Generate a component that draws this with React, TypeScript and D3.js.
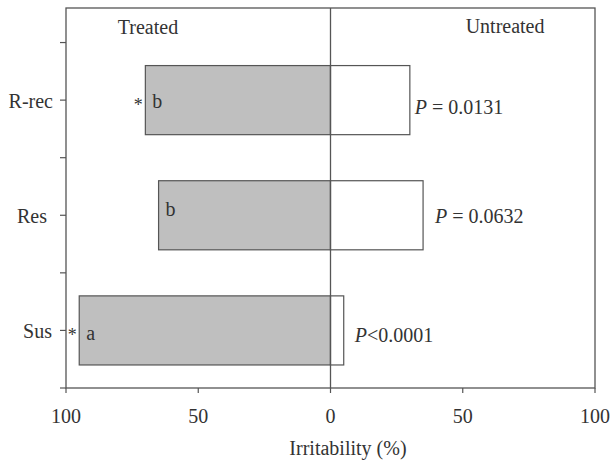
import React from "react";
import * as d3 from "d3";

const categories = ["R-rec", "Res", "Sus"];
const treated = [70, 65, 95];
const untreated = [30, 35, 5];
const letters = ["b", "b", "a"];
const stars = [true, false, true];
const pLabels = [
  { italic: "P", rest: " = 0.0131" },
  { italic: "P", rest: " = 0.0632" },
  { italic: "P", rest: "<0.0001" },
];
const xTicks = [-100, -50, 0, 50, 100];
const yPositions = [2.5, 1.5, 0.5];
const yTicks = [0, 0.5, 1, 1.5, 2, 2.5, 3];

// small layout offsets for annotations
const letterDy = [8, 1, 9.5];
const pDx = [5, 12, 11];
const pDy = [13.5, 7.5, 11.5];
const catDx = [0, -6, -1];

export default function App() {
  const W = 610, H = 460;
  const left = 66, right = 595, top = 8, bottom = 388;
  const x = d3.scaleLinear().domain([-100, 100]).range([left, right]);
  const y = d3.scaleLinear().domain([0, 3.3]).range([bottom, top]);
  const barH = y(0) - y(0.6);
  const font = "Liberation Serif, serif";
  const textColor = "#333";
  const lineColor = "#555";

  return (
    <svg width={W} height={H} style={{ position: "absolute", left: 0, top: 0, background: "#fff", fontFamily: font }}>
      <rect x={0} y={0} width={W} height={H} fill="#fff" />
      {categories.map((c, i) => {
        const cy = y(yPositions[i]);
        return (
          <g key={c}>
            <rect x={x(-treated[i])} y={cy - barH / 2} width={x(0) - x(-treated[i])} height={barH}
              fill="#bfbfbf" stroke={lineColor} strokeWidth={1.2} />
            <rect x={x(0)} y={cy - barH / 2} width={x(untreated[i]) - x(0)} height={barH}
              fill="#fff" stroke={lineColor} strokeWidth={1.2} />
            <text x={x(-treated[i]) + 7} y={cy + letterDy[i]} fontSize={20} fill={textColor}>{letters[i]}</text>
            {stars[i] && (
              <text x={x(-treated[i]) - 2.5} y={cy + 11} fontSize={18} textAnchor="end" fill={textColor}>*</text>
            )}
            <text x={x(untreated[i]) + pDx[i]} y={cy + pDy[i]} fontSize={20} fill={textColor}>
              <tspan fontStyle="italic">{pLabels[i].italic}</tspan>
              <tspan>{pLabels[i].rest}</tspan>
            </text>
            <text x={left - 13 + catDx[i]} y={cy + 7.5} fontSize={20} textAnchor="end" fill={textColor}>{c}</text>
          </g>
        );
      })}
      <rect x={left} y={top} width={right - left} height={bottom - top} fill="none" stroke={lineColor} strokeWidth={1.3} />
      <line x1={x(0)} x2={x(0)} y1={top} y2={bottom} stroke={lineColor} strokeWidth={1.3} />
      {yTicks.map((t) => (
        <line key={t} x1={left - 6} x2={left} y1={y(t)} y2={y(t)} stroke={lineColor} strokeWidth={1.2} />
      ))}
      {xTicks.map((t) => (
        <g key={t}>
          <line x1={x(t)} x2={x(t)} y1={bottom} y2={bottom + 5} stroke={lineColor} strokeWidth={1.2} />
          <text x={x(t)} y={423} fontSize={20} textAnchor="middle" fill={textColor}>{Math.abs(t)}</text>
        </g>
      ))}
      <text x={x(6.6)} y={455} fontSize={20} textAnchor="middle" fill={textColor}>Irritability (%)</text>
      <text x={x(-69)} y={34} fontSize={20} textAnchor="middle" fill={textColor}>Treated</text>
      <text x={x(66)} y={33} fontSize={20} textAnchor="middle" fill={textColor}>Untreated</text>
    </svg>
  );
}
